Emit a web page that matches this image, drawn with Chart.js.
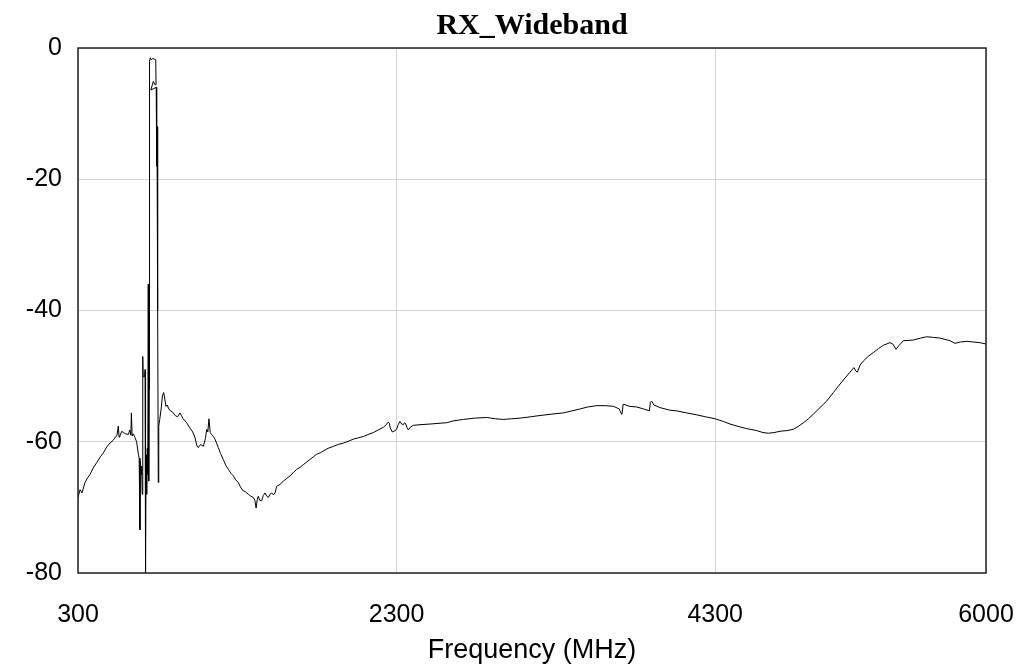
<!DOCTYPE html>
<html>
<head>
<meta charset="utf-8">
<script src="https://cdn.jsdelivr.net/npm/chart.js@4.4.1/dist/chart.umd.min.js"></script>
<style>
  html, body { margin: 0; padding: 0; background: #fff; }
</style>
</head>
<body>
<canvas id="rx" width="1021" height="668"></canvas>
<script>
// sweep, MHz / dB
const freqMHz = [
  300, 313, 325, 344, 360, 375, 395, 417, 440, 459,
  480, 501, 520, 532, 545, 553, 558, 563, 575, 585,
  600, 616, 625, 632, 635, 640, 648, 658, 668, 679,
  684, 689, 692, 696, 700, 703, 706, 707, 709, 718,
  721, 723, 725, 727, 731, 735, 738, 741, 744, 747,
  749, 754, 760, 770, 788, 790, 783, 773, 757, 791,
  794, 796, 800, 804, 807, 813, 822, 830, 838, 845,
  852, 860, 870, 881, 895, 910, 925, 940, 960, 982,
  1000, 1020, 1035, 1045, 1055, 1070, 1087, 1100, 1108, 1115,
  1122, 1130, 1139, 1150, 1160, 1170, 1181, 1195, 1212, 1228,
  1244, 1260, 1275, 1290, 1306, 1320, 1338, 1350, 1369, 1385,
  1401, 1410, 1418, 1425, 1432, 1440, 1453, 1463, 1474, 1485,
  1495, 1505, 1516, 1527, 1537, 1547, 1568, 1589, 1610, 1631,
  1652, 1673, 1694, 1714, 1735, 1756, 1777, 1798, 1820, 1840,
  1870, 1903, 1935, 1966, 2000, 2028, 2060, 2091, 2120, 2154,
  2185, 2217, 2235, 2248, 2255, 2260, 2273, 2290, 2300, 2310,
  2321, 2332, 2342, 2350, 2356, 2365, 2374, 2385, 2405, 2447,
  2510, 2560, 2614, 2660, 2719, 2790, 2866, 2920, 2970, 3020,
  3075, 3140, 3200, 3270, 3347, 3400, 3452, 3500, 3556, 3610,
  3661, 3698, 3712, 3715, 3722, 3728, 3760, 3807, 3850, 3887,
  3893, 3901, 3915, 3954, 4017, 4059, 4120, 4184, 4240, 4300,
  4350, 4393, 4450, 4498, 4561, 4600, 4634, 4670, 4707, 4750,
  4791, 4825, 4854, 4885, 4916, 4958, 5000, 5042, 5084, 5115,
  5146, 5171, 5182, 5192, 5210, 5230, 5260, 5293, 5325, 5356,
  5397, 5415, 5435, 5455, 5481, 5544, 5590, 5628, 5670, 5711,
  5774, 5805, 5840, 5879, 5920, 5962, 6000,
];
const levelDb = [
  -68.5, -67.3, -67.8, -66.2, -65.5, -65.0, -64.0, -63.2, -62.3, -61.7,
  -60.8, -60.2, -59.8, -59.4, -59.0, -57.6, -59.3, -59.1, -58.4, -58.6,
  -58.8, -58.9, -58.2, -59.0, -55.6, -59.1, -58.8, -59.4, -60.0, -61.9,
  -62.5, -73.4, -63.0, -65.0, -63.7, -68.0, -62.2, -47.0, -50.1, -50.1,
  -49.0, -64.0, -80.0, -62.0, -68.0, -61.0, -65.0, -36.0, -66.0, -52.0,
  -2.0, -1.5, -1.8, -1.6, -1.8, -5.6, -5.6, -5.1, -6.4, -6.0,
  -18.0, -12.0, -40.0, -66.2, -57.6, -56.6, -55.0, -53.0, -52.5, -53.5,
  -54.6, -54.4, -55.0, -55.3, -55.5, -56.0, -56.2, -55.6, -56.5, -57.1,
  -57.8, -58.5, -59.4, -60.5, -60.9, -60.4, -60.7, -59.5, -58.1, -58.5,
  -56.5, -58.6, -58.9, -59.2, -59.6, -60.2, -60.9, -61.8, -62.7, -63.6,
  -64.2, -64.8, -65.2, -65.8, -66.2, -66.9, -67.5, -67.6, -68.0, -68.3,
  -68.5, -68.9, -70.1, -68.8, -68.3, -68.9, -69.0, -68.2, -67.8, -68.3,
  -68.5, -68.0, -67.8, -68.1, -67.8, -66.8, -66.5, -66.0, -65.6, -65.2,
  -64.7, -64.2, -63.9, -63.5, -63.1, -62.7, -62.3, -61.9, -61.7, -61.4,
  -61.0, -60.7, -60.4, -60.2, -59.9, -59.6, -59.4, -59.2, -58.9, -58.6,
  -58.2, -57.8, -57.4, -57.0, -57.2, -57.9, -58.5, -58.3, -58.1, -57.4,
  -56.9, -57.3, -57.4, -57.1, -57.2, -57.8, -58.2, -57.8, -57.5, -57.4,
  -57.3, -57.2, -57.1, -56.8, -56.6, -56.4, -56.3, -56.5, -56.6, -56.5,
  -56.4, -56.2, -56.0, -55.8, -55.6, -55.3, -55.0, -54.7, -54.5, -54.5,
  -54.6, -55.0, -55.8, -55.8, -54.3, -54.3, -54.6, -54.7, -55.0, -55.3,
  -54.0, -53.8, -54.4, -54.8, -55.2, -55.3, -55.6, -55.9, -56.2, -56.5,
  -56.9, -57.3, -57.7, -58.0, -58.3, -58.6, -58.7, -58.6, -58.4, -58.3,
  -58.1, -57.6, -57.1, -56.5, -55.8, -54.8, -53.8, -52.5, -51.2, -50.3,
  -49.4, -48.7, -49.2, -49.4, -48.3, -47.7, -47.0, -46.4, -45.8, -45.3,
  -44.9, -45.1, -45.9, -45.3, -44.6, -44.5, -44.2, -44.0, -44.1, -44.2,
  -44.6, -45.0, -44.8, -44.7, -44.8, -44.9, -45.1,
];
const xTicks = [300, 2300, 4300, 6000];
const yTicks = [0, -20, -40, -60, -80];

const sans = "'Liberation Sans', Arial, sans-serif";
const tickFont = { family: sans, size: 25 };

// dark box round the plot area
const frame = {
  id: "frame",
  afterDatasetsDraw(chart) {
    const { ctx, chartArea: a } = chart;
    ctx.save();
    ctx.strokeStyle = "#222";
    ctx.lineWidth = 1.5;
    ctx.strokeRect(a.left, a.top, a.right - a.left, a.bottom - a.top);
    ctx.restore();
  },
};

new Chart(document.getElementById("rx"), {
  type: "line",
  data: {
    datasets: [
      {
        label: "RX_Wideband",
        data: freqMHz.map((f, i) => ({ x: f, y: levelDb[i] })),
        borderColor: "#000",
        borderWidth: 1,
        pointRadius: 0,
        tension: 0,
        fill: false,
      },
    ],
  },
  options: {
    responsive: false,
    animation: false,
    layout: { padding: { left: 0, right: 35, top: 0, bottom: 0 } },
    plugins: {
      legend: { display: false },
      tooltip: { enabled: false },
      title: {
        display: true,
        fullSize: false,
        text: "RX_Wideband",
        color: "#000",
        font: { family: "'Liberation Serif', 'Times New Roman', serif", size: 30, weight: "bold" },
        padding: { top: 8, bottom: 4 },
      },
    },
    scales: {
      x: {
        type: "linear",
        min: 300,
        max: 6000,
        afterBuildTicks: (s) => { s.ticks = xTicks.map((v) => ({ value: v })); },
        afterFit: (s) => { s.height = 95; s.paddingLeft = 0; s.paddingRight = 0; },
        ticks: { font: tickFont, color: "#000", padding: 27, maxRotation: 0, autoSkip: false, callback: (v) => String(v) },
        grid: { color: "#d4d4d4", drawTicks: false },
        border: { display: false },
        title: {
          display: true,
          text: "Frequency (MHz)",
          color: "#000",
          font: { family: sans, size: 27 },
          padding: { top: 0, bottom: 1 },
        },
      },
      y: {
        min: -80,
        max: 0,
        afterBuildTicks: (s) => { s.ticks = yTicks.map((v) => ({ value: v })); },
        afterFit: (s) => { s.width = 78; },
        ticks: { font: tickFont, color: "#000", padding: 16, callback: (v) => String(v) },
        grid: { color: "#d4d4d4", drawTicks: false },
        border: { display: false },
      },
    },
  },
  plugins: [frame],
});
</script>
</body>
</html>
